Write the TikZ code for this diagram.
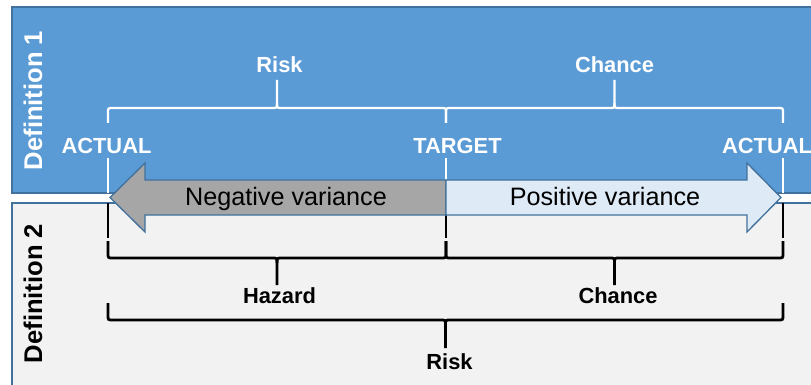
\documentclass[tikz,border=0pt]{standalone}
\usepackage{fontspec}
\setmainfont{Liberation Sans}
\definecolor{boxblue}{HTML}{5B9BD5}
\definecolor{edgeblue}{HTML}{41719C}
\definecolor{lightgray}{HTML}{F2F2F2}
\definecolor{arrgray}{HTML}{A6A6A6}
\definecolor{arrlight}{HTML}{DEEBF7}
\newcommand{\mybrace}[6]{%
  \pgfmathsetmacro\braceM{(#2+#3)/2}%
  \pgfmathsetmacro\braceS{sign(#5-#4)*5}%
  \draw[#1] (#2,#4) -- (#2,{#5-(\braceS)}) .. controls (#2,#5) .. ({#2+5},#5)
     -- ({\braceM-5},#5) .. controls (\braceM,#5) .. (\braceM,{#5+(\braceS)}) -- (\braceM,#6);
  \draw[#1] (#3,#4) -- (#3,{#5-(\braceS)}) .. controls (#3,#5) .. ({#3-5},#5)
     -- ({\braceM+5},#5) .. controls (\braceM,#5) .. (\braceM,{#5+(\braceS)});
}
\tikzset{
  whitelbl/.style={text=white,font=\fontsize{16.4}{19}\selectfont\bfseries,anchor=base,inner sep=0pt},
  blacklbl/.style={text=black,font=\fontsize{16.4}{19}\selectfont\bfseries,anchor=base,inner sep=0pt},
  arrlbl/.style={text=black,font=\fontsize{18.9}{21}\selectfont,anchor=base,inner sep=0pt},
  deflbl/.style={font=\fontsize{19.2}{21}\selectfont\bfseries,anchor=base,rotate=90,inner sep=0pt},
  whiteline/.style={white,line width=1.7pt},
  blackline/.style={black,line width=2.1pt},
}
\begin{document}
\begin{tikzpicture}[x=0.75pt,y=-0.75pt]
\clip (0,0) rectangle (811,385);
\fill[white] (0,0) rectangle (811,385);
% boxes
\draw[edgeblue,fill=boxblue,line width=1.5pt] (12,7) rectangle (840,193);
\draw[edgeblue,fill=lightgray,line width=1.5pt] (12,203) rectangle (840,420);
% definition labels
\node[deflbl,text=white] (def1) at (42,100.5) {Definition 1};
\node[deflbl,text=black] (def2) at (42,293.5) {Definition 2};
% top braces
\mybrace{whiteline}{108}{446}{123}{108}{80}
\mybrace{whiteline}{446}{783}{123}{108}{80}
\node[whitelbl] (riskT) at (279.5,73) {Risk};
\node[whitelbl] (chanceT) at (614.5,73) {Chance};
\node[whitelbl] (actL) at (106.5,153) {ACTUAL};
\node[whitelbl] (target) at (457.5,153) {TARGET};
\node[whitelbl] (actR) at (767,153) {ACTUAL};
% white ticks
\coordinate (wl) at (108,193);
\coordinate (wm) at (446,180);
\coordinate (wr) at (783,193);
\draw[whiteline] (108,158) -- (wl);
\draw[whiteline] (446,158) -- (wm);
\draw[whiteline] (783,158) -- (wr);
% black ticks
\draw[blackline] (108,203) -- (108,238);
\draw[blackline] (446,215) -- (446,238);
\draw[blackline] (783,203) -- (783,238);
% arrow
\draw[edgeblue,fill=arrgray,line width=1pt,line join=miter]
  (446,180) -- (145,180) -- (145,163) -- (110,197.5) -- (145,232) -- (145,215) -- (446,215) -- cycle;
\draw[edgeblue,fill=arrlight,line width=1pt,line join=miter]
  (446,180) -- (747,180) -- (747,163) -- (781,197.5) -- (747,232) -- (747,215) -- (446,215) -- cycle;
\fill[arrgray] (145.6,180.6) rectangle (445.4,214.4);
\node[arrlbl] (neg) at (286,205) {Negative variance};
\node[arrlbl] (pos) at (605,205) {Positive variance};
% bottom braces
\mybrace{blackline}{108}{446}{241}{258}{285}
\mybrace{blackline}{446}{783}{241}{258}{285}
\node[blacklbl] (hazard) at (279.5,303) {Hazard};
\node[blacklbl] (chanceB) at (618,303) {Chance};
\mybrace{blackline}{108}{783}{303}{320}{348}
\node[blacklbl] (riskB) at (449.5,369) {Risk};
\end{tikzpicture}
\end{document}
